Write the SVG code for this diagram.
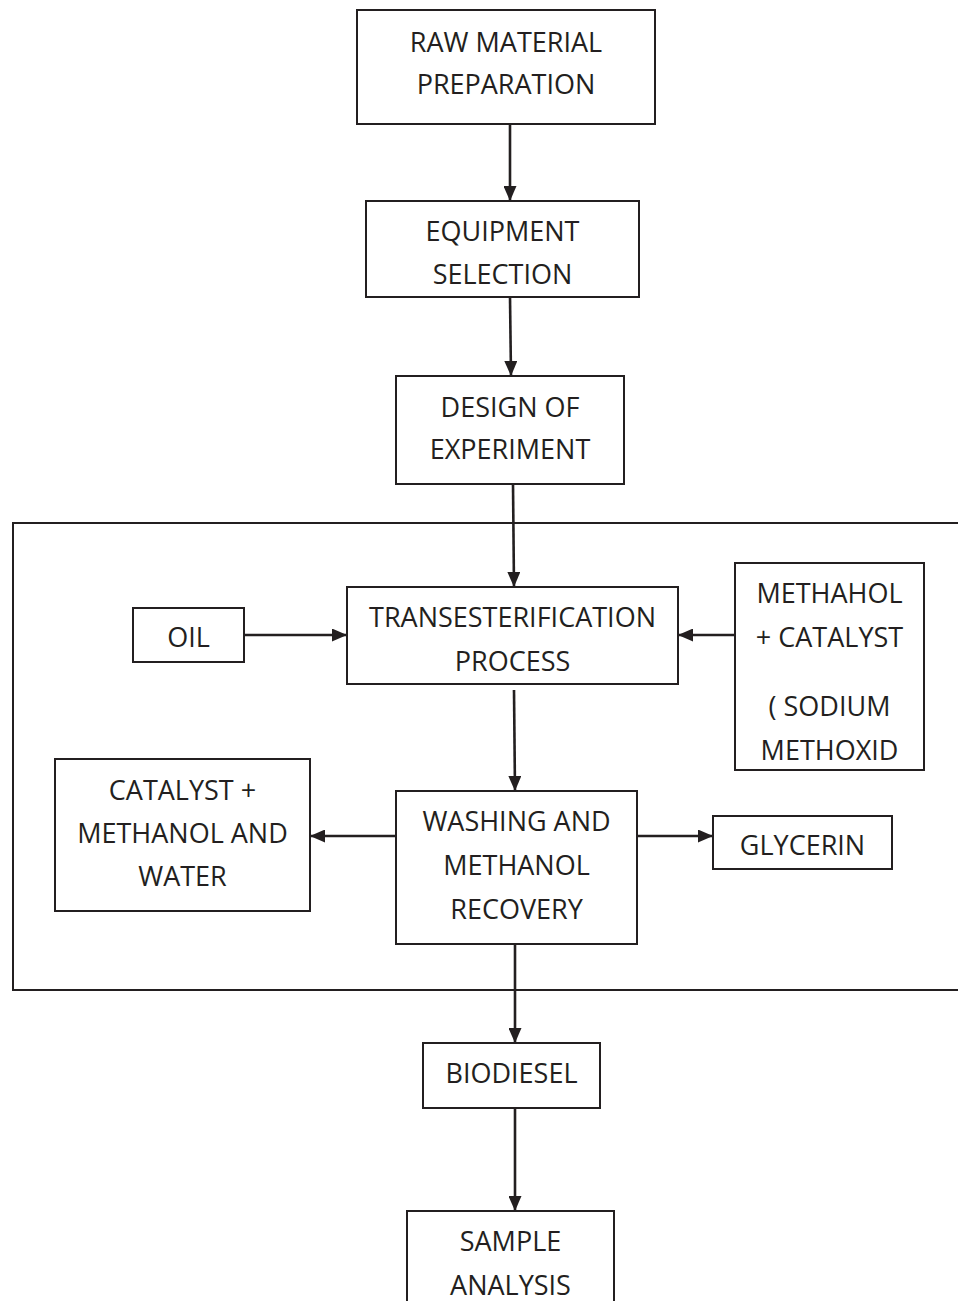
<svg xmlns="http://www.w3.org/2000/svg" width="958" height="1301" viewBox="0 0 958 1301">
<defs>
<marker id="ah" viewBox="0 0 15 13" refX="15" refY="6.5" markerWidth="15" markerHeight="13" markerUnits="userSpaceOnUse" orient="auto">
<path d="M0,0 L15,6.5 L0,13 Z" fill="#231f20"/>
</marker>
<style>
.box{fill:#fff;stroke:#231f20;stroke-width:2}
.frame{fill:none;stroke:#231f20;stroke-width:2}
.t{font-family:"Open Sans","Noto Sans",sans-serif;font-size:27px;fill:#231f20;text-anchor:middle}
.c{fill:none;stroke:#231f20;stroke-width:2.6;marker-end:url(#ah)}
</style>
</defs>
<rect width="958" height="1301" fill="#fff"/>
<path class="frame" d="M960,523 H13 V990 H960"/>
<g id="connectors">
<line class="c" x1="510" y1="124" x2="510" y2="201"/>
<line class="c" x1="510" y1="297" x2="511" y2="376"/>
<line class="c" x1="513" y1="484" x2="514" y2="587"/>
<line class="c" x1="244" y1="635" x2="347" y2="635"/>
<line class="c" x1="735" y1="635" x2="678" y2="635"/>
<line class="c" x1="514" y1="690" x2="515" y2="791"/>
<line class="c" x1="396" y1="836" x2="310" y2="836"/>
<line class="c" x1="637" y1="836" x2="713" y2="836"/>
<line class="c" x1="515" y1="944" x2="515" y2="1043"/>
<line class="c" x1="515" y1="1108" x2="515" y2="1211"/>
</g>
<g id="raw">
<rect class="box" x="357" y="10" width="298" height="114"/>
<text class="t" x="506" y="52">RAW MATERIAL</text>
<text class="t" x="506" y="94">PREPARATION</text>
</g>
<g id="equipment">
<rect class="box" x="366" y="201" width="273" height="96"/>
<text class="t" x="502.5" y="241">EQUIPMENT</text>
<text class="t" x="502.5" y="284">SELECTION</text>
</g>
<g id="design">
<rect class="box" x="396" y="376" width="228" height="108"/>
<text class="t" x="510" y="417">DESIGN OF</text>
<text class="t" x="510" y="459">EXPERIMENT</text>
</g>
<g id="trans">
<rect class="box" x="347" y="587" width="331" height="97"/>
<text class="t" x="512.5" y="627">TRANSESTERIFICATION</text>
<text class="t" x="512.5" y="671">PROCESS</text>
</g>
<g id="oil">
<rect class="box" x="133" y="608" width="111" height="54"/>
<text class="t" x="188.5" y="647">OIL</text>
</g>
<g id="methahol">
<rect class="box" x="735" y="563" width="189" height="207"/>
<text class="t" x="829.5" y="603">METHAHOL</text>
<text class="t" x="829.5" y="647">+ CATALYST</text>
<text class="t" x="829.5" y="716">( SODIUM</text>
<text class="t" x="829.5" y="760">METHOXID</text>
</g>
<g id="catalyst">
<rect class="box" x="55" y="759" width="255" height="152"/>
<text class="t" x="182.5" y="800">CATALYST +</text>
<text class="t" x="182.5" y="843">METHANOL AND</text>
<text class="t" x="182.5" y="886">WATER</text>
</g>
<g id="washing">
<rect class="box" x="396" y="791" width="241" height="153"/>
<text class="t" x="516.5" y="831">WASHING AND</text>
<text class="t" x="516.5" y="875">METHANOL</text>
<text class="t" x="516.5" y="919">RECOVERY</text>
</g>
<g id="glycerin">
<rect class="box" x="713" y="816" width="179" height="53"/>
<text class="t" x="802.5" y="855">GLYCERIN</text>
</g>
<g id="biodiesel">
<rect class="box" x="423" y="1043" width="177" height="65"/>
<text class="t" x="511.5" y="1083">BIODIESEL</text>
</g>
<g id="sample">
<rect class="box" x="407" y="1211" width="207" height="100"/>
<text class="t" x="510.5" y="1251">SAMPLE</text>
<text class="t" x="510.5" y="1295">ANALYSIS</text>
</g>
</svg>
